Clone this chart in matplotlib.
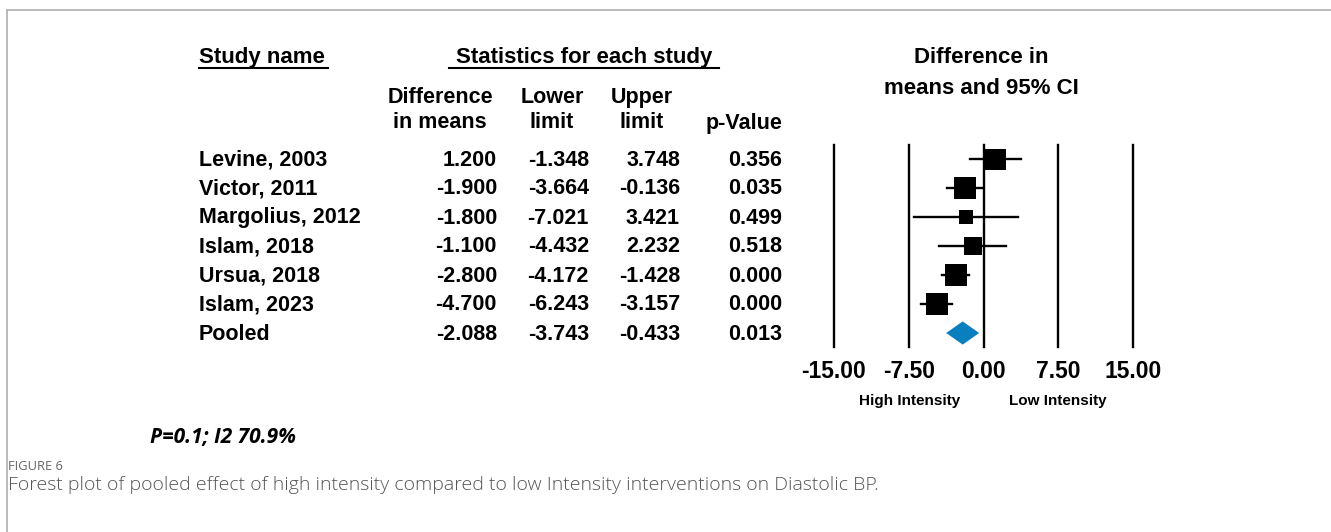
import matplotlib.pyplot as plt
import numpy as np

# data
studies = ['Levine, 2003', 'Victor, 2011', 'Margolius, 2012', 'Islam, 2018',
           'Ursua, 2018', 'Islam, 2023', 'Pooled']
diff = [1.200, -1.900, -1.800, -1.100, -2.800, -4.700, -2.088]
lower = [-1.348, -3.664, -7.021, -4.432, -4.172, -6.243, -3.743]
upper = [3.748, -0.136, 3.421, 2.232, -1.428, -3.157, -0.433]
pval = [0.356, 0.035, 0.499, 0.518, 0.000, 0.000, 0.013]
box_px = [21, 23, 14, 18, 23, 23]   # square sizes (weights) in pixels
ticks = [-15, -7.5, 0, 7.5, 15]

W, H = 1331, 532
fig = plt.figure(figsize=(W / 100, H / 100), dpi=100)

# background axes in pixel coordinates for the table text
bg = fig.add_axes([0, 0, 1, 1])
bg.set_xlim(0, W)
bg.set_ylim(H, 0)
bg.axis('off')

# frame lines of the figure panel
bg.plot([7, W], [10, 10], color='#b0b0b0', lw=1.2)
bg.plot([7, 7], [10, H], color='#b0b0b0', lw=1.2)

font = 'Liberation Sans'
fs = 15.5

# headers
bg.text(199, 57, 'Study name', fontsize=16, fontweight='bold', family=font, va='center')
bg.plot([199, 328], [68, 68], color='black', lw=1.5)
bg.text(584, 57, 'Statistics for each study', fontsize=16, fontweight='bold', family=font,
        va='center', ha='center')
bg.plot([449, 719], [68, 68], color='black', lw=1.5)
bg.text(981, 73, 'Difference in\nmeans and 95% CI', fontsize=16, fontweight='bold', family=font,
        va='center', ha='center', linespacing=1.6)

col_right = [497, 589, 680, 782]
bg.text(440, 110, 'Difference\nin means', fontsize=fs, fontweight='bold', family=font,
        va='center', ha='center', linespacing=1.25)
bg.text(552, 110, 'Lower\nlimit', fontsize=fs, fontweight='bold', family=font,
        va='center', ha='center', linespacing=1.25)
bg.text(642, 110, 'Upper\nlimit', fontsize=fs, fontweight='bold', family=font,
        va='center', ha='center', linespacing=1.25)
bg.text(782, 123, 'p-Value', fontsize=fs, fontweight='bold', family=font,
        va='center', ha='right')

row_y0, row_dy = 159, 29
for i, name in enumerate(studies):
    y = row_y0 + i * row_dy + 1
    bg.text(199, y, name, fontsize=fs, fontweight='bold', family=font, va='center')
    vals = [diff[i], lower[i], upper[i], pval[i]]
    for x, v in zip(col_right, vals):
        bg.text(x, y, f'{v:.3f}', fontsize=fs, fontweight='bold', family=font,
                va='center', ha='right')

# forest plot axes
x0, x1 = 834, 1133
top, bot = 145, 347
ax = fig.add_axes([x0 / W, 1 - bot / H, (x1 - x0) / W, (bot - top) / H])
ax.set_xlim(-15, 15)
ax.set_ylim((bot - row_y0) / row_dy, (top - row_y0) / row_dy)
for s in ax.spines.values():
    s.set_visible(False)
ax.patch.set_alpha(0)
for t in ticks:
    ax.axvline(t, color='black', lw=1.7, clip_on=False)

n = len(studies) - 1
for i in range(n):
    ax.plot([lower[i], upper[i]], [i, i], color='black', lw=1.7, zorder=3)
    ax.plot(diff[i], i, marker='s', color='black', markersize=box_px[i] * 0.72,
            markeredgewidth=0, zorder=4)

# pooled diamond
yp = n
hh = 0.4
ax.fill([lower[n], diff[n], upper[n], diff[n]], [yp, yp - hh, yp, yp + hh],
        color='#0a7fc0', zorder=4, lw=0)

ax.set_yticks([])
ax.set_xticks(ticks)
ax.set_xticklabels([f'{t:.2f}' for t in ticks], fontsize=16.5, fontweight='bold', family=font)
ax.tick_params(axis='x', length=0, pad=9)

bg.text(910, 401, 'High Intensity', fontsize=11, fontweight='bold', family=font,
        va='center', ha='center')
bg.text(1058, 401, 'Low Intensity', fontsize=11, fontweight='bold', family=font,
        va='center', ha='center')

bg.text(150, 437, 'P=0.1; I2 70.9%', fontsize=15, fontweight='bold', style='italic',
        family='Open Sans', va='center')

bg.text(8, 466, 'FIGURE 6', fontsize=9.3, color='#666666', family='Open Sans', va='center')
bg.text(8, 485, 'Forest plot of pooled effect of high intensity compared to low Intensity '
        'interventions on Diastolic BP.', fontsize=14, color='#555555', family='Open Sans',
        fontweight='light', va='center')

fig.savefig('out.png', dpi=100)
